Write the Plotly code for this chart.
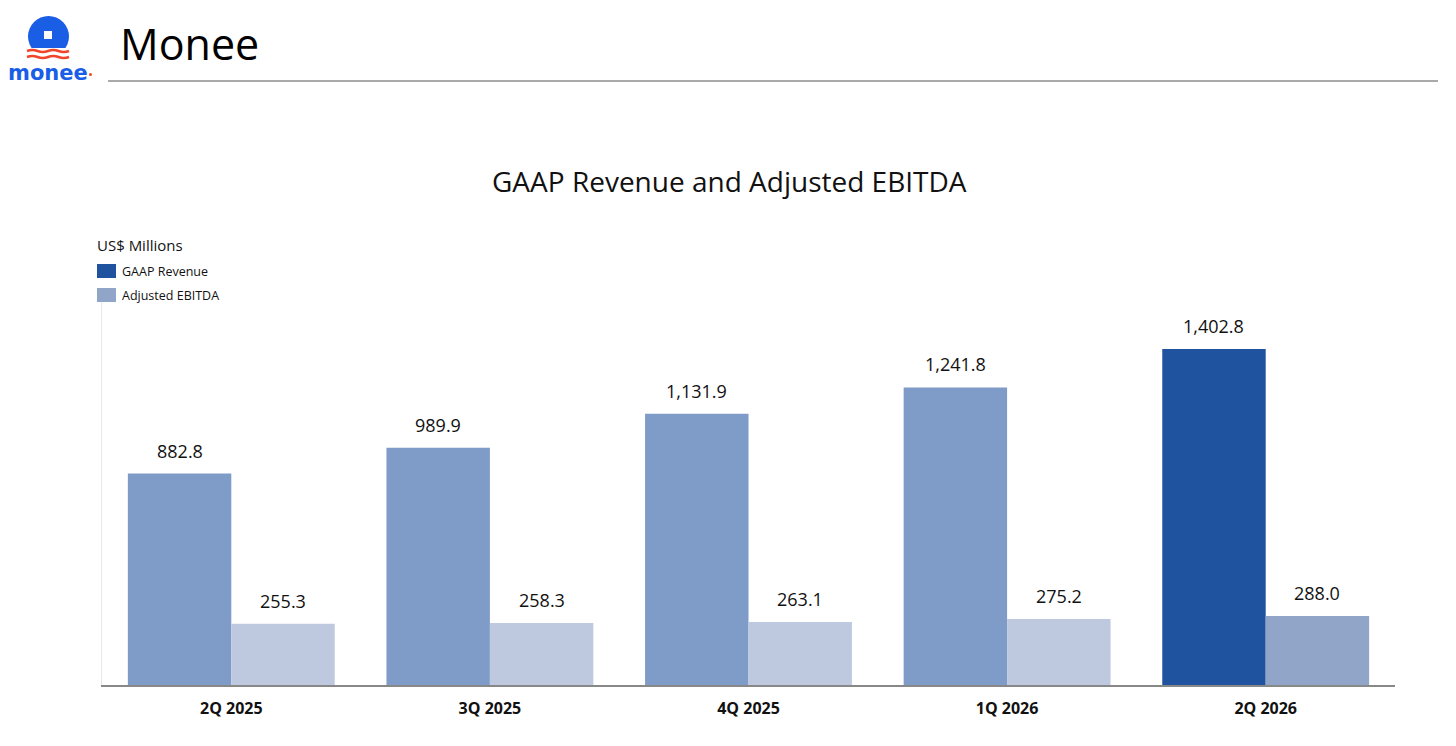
import plotly.graph_objects as go

# data
quarters = ["2Q 2025", "3Q 2025", "4Q 2025", "1Q 2026", "2Q 2026"]
revenue = [882.8, 989.9, 1131.9, 1241.8, 1402.8]
ebitda = [255.3, 258.3, 263.1, 275.2, 288.0]
revenue_colors = ["#7f9bc8", "#7f9bc8", "#7f9bc8", "#7f9bc8", "#1f53a0"]
ebitda_colors = ["#bec9e0", "#bec9e0", "#bec9e0", "#bec9e0", "#91a5c8"]
legend_names = ["GAAP Revenue", "Adjusted EBITDA"]
legend_colors = ["#1f53a0", "#91a5c8"]

# page body has an 8px margin, so the figure is a bit smaller and shifted
OFF = 8
W, H = 1456 - 2 * OFF, 746 - 2 * OFF
PLOT_L, PLOT_R, PLOT_T, PLOT_B = 102, 1395, 300, 685   # in screen pixels
L, T = PLOT_L - OFF, PLOT_T - OFF
R, B = W - (PLOT_R - OFF), H - (PLOT_B - OFF)
FONT = "Open Sans"


def px(x):
    return (x - PLOT_L) / (PLOT_R - PLOT_L)


def py(y):
    return (PLOT_B - y) / (PLOT_B - PLOT_T)


fig = go.Figure()
fig.add_trace(go.Bar(x=quarters, y=revenue, name=legend_names[0],
                     marker=dict(color=revenue_colors, line=dict(width=0))))
fig.add_trace(go.Bar(x=quarters, y=ebitda, name=legend_names[1],
                     marker=dict(color=ebitda_colors, line=dict(width=0))))

shapes = []
annotations = []

# value labels above bars
half = (PLOT_R - PLOT_L) / len(quarters) * 0.8 / 4
for vals, shift in ((revenue, -half), (ebitda, half)):
    for q, v in zip(quarters, vals):
        annotations.append(dict(text=f"{v:,.1f}", x=q, y=v, xref="x", yref="y",
                                xshift=shift, yshift=9, showarrow=False,
                                xanchor="center", yanchor="bottom",
                                font=dict(size=18, color="#111", family=FONT)))

# header rule
shapes.append(dict(type="line", xref="paper", yref="paper",
                   x0=px(108), x1=px(1438), y0=py(81), y1=py(81),
                   line=dict(color="#555", width=1)))

# logo
shapes.append(dict(type="circle", xref="paper", yref="paper",
                   x0=px(28), x1=px(69), y0=py(16), y1=py(57),
                   fillcolor="#1a5ee6", line=dict(width=0)))
shapes.append(dict(type="rect", xref="paper", yref="paper",
                   x0=px(44), x1=px(52), y0=py(31), y1=py(39),
                   fillcolor="white", line=dict(width=0)))
shapes.append(dict(type="rect", xref="paper", yref="paper",
                   x0=px(24), x1=px(72), y0=py(48), y1=py(60),
                   fillcolor="white", line=dict(width=0)))
for yy in (51, 57):
    x0, x1 = px(27), px(69)
    path = "M {},{} ".format(x0, py(yy))
    n = 4
    for i in range(n):
        xa = x0 + (x1 - x0) * (i + 0.5) / n
        xb = x0 + (x1 - x0) * (i + 1) / n
        dy = -2 if i % 2 == 0 else 2
        path += "Q {},{} {},{} ".format(xa, py(yy + dy), xb, py(yy))
    shapes.append(dict(type="path", xref="paper", yref="paper", path=path,
                       line=dict(color="#f0442c", width=2.5)))
annotations.append(dict(text="<b>monee</b>", xref="paper", yref="paper",
                        x=px(48), y=py(73), showarrow=False,
                        font=dict(size=21, color="#1a5ee6", family="DejaVu Sans"),
                        xanchor="center", yanchor="middle"))
shapes.append(dict(type="circle", xref="paper", yref="paper",
                   x0=px(89), x1=px(92), y0=py(73), y1=py(76),
                   fillcolor="#f0442c", line=dict(width=0)))

annotations.append(dict(text="Monee", xref="paper", yref="paper",
                        x=px(118), y=py(43), showarrow=False,
                        font=dict(size=43, color="#000", family=FONT),
                        xanchor="left", yanchor="middle"))

annotations.append(dict(text="GAAP Revenue and Adjusted EBITDA", xref="paper", yref="paper",
                        x=px(729), y=py(181), showarrow=False,
                        font=dict(size=28, color="#111", family=FONT),
                        xanchor="center", yanchor="middle"))

# legend
annotations.append(dict(text="US$ Millions", xref="paper", yref="paper",
                        x=px(95), y=py(245), showarrow=False,
                        font=dict(size=15, color="#111", family=FONT),
                        xanchor="left", yanchor="middle"))
for i, (name, col) in enumerate(zip(legend_names, legend_colors)):
    yc = 271 + 24 * i
    shapes.append(dict(type="rect", xref="paper", yref="paper",
                       x0=px(97), x1=px(116), y0=py(yc - 7), y1=py(yc + 7),
                       fillcolor=col, line=dict(width=0)))
    annotations.append(dict(text=name, xref="paper", yref="paper",
                            x=px(120), y=py(yc), showarrow=False,
                            font=dict(size=12.5, color="#111", family=FONT),
                            xanchor="left", yanchor="middle"))

fig.update_layout(
    width=W, height=H,
    margin=dict(l=L, r=R, t=T, b=B),
    paper_bgcolor="white", plot_bgcolor="white",
    barmode="group", bargap=0.2, bargroupgap=0,
    showlegend=False,
    font=dict(family=FONT, color="#111"),
    xaxis=dict(showline=True, linecolor="#888", linewidth=1.5,
               tickfont=dict(size=16, color="#111", family=FONT),
               ticklabelstandoff=8, showgrid=False, zeroline=False),
    yaxis=dict(range=[0, 1607], showline=True, linecolor="#e8e8e8", linewidth=1,
               showticklabels=False, showgrid=False, zeroline=False, ticks=""),
    shapes=shapes, annotations=annotations,
)
fig.update_xaxes(tickvals=quarters, ticktext=[f"<b>{q}</b>" for q in quarters])

fig.write_html("out.html")
